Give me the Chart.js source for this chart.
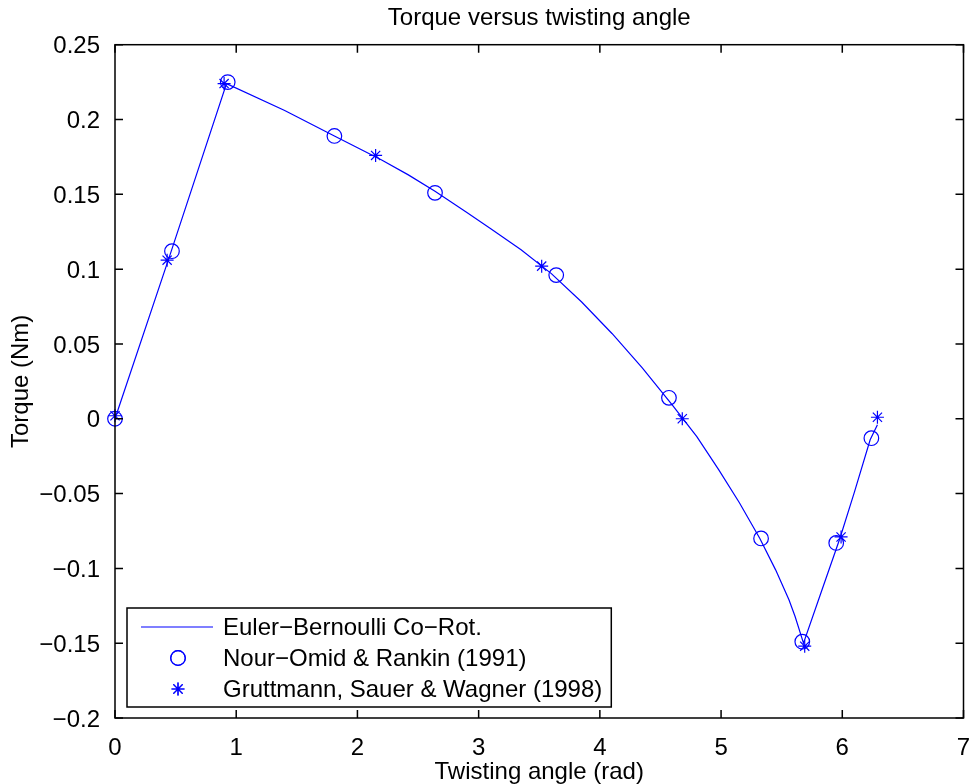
<!DOCTYPE html>
<html>
<head>
<meta charset="utf-8">
<script src="https://cdn.jsdelivr.net/npm/chart.js@4/dist/chart.umd.min.js"></script>
<style>
  html, body { margin: 0; padding: 0; background: #fff; }
  #chart { display: block; }
</style>
</head>
<body>
<canvas id="chart" width="972" height="784"></canvas>
<script>
// Euler-Bernoulli co-rotational curve
const lineAngle = [0, 0.46, 0.92, 1.4, 1.81, 2.2, 2.42, 2.64, 2.9, 3.1, 3.35, 3.6, 3.85, 4.1, 4.35, 4.6, 4.8, 4.98, 5.15, 5.32, 5.45, 5.56, 5.61, 5.68, 5.83, 5.98, 6.1, 6.23, 6.29];
const lineTorque = [0, 0.111, 0.224, 0.206, 0.189, 0.173, 0.163, 0.152, 0.138, 0.127, 0.113, 0.097, 0.078, 0.057, 0.034, 0.009, -0.012, -0.034, -0.056, -0.080, -0.101, -0.121, -0.132, -0.150, -0.115, -0.080, -0.049, -0.014, -0.004];
// Nour-Omid & Rankin (1991)
const nourAngle = [0, 0.47, 0.93, 1.81, 2.64, 3.64, 4.57, 5.33, 5.67, 5.95, 6.24];
const nourTorque = [0, 0.112, 0.225, 0.189, 0.151, 0.096, 0.014, -0.080, -0.149, -0.083, -0.013];
// Gruttmann, Sauer & Wagner (1998)
const grutAngle = [0, 0.43, 0.90, 2.15, 3.52, 4.68, 5.69, 5.99, 6.29];
const grutTorque = [0.002, 0.106, 0.224, 0.176, 0.102, 0.0, -0.152, -0.079, 0.001];

const seriesLabels = ["Euler\u2212Bernoulli Co\u2212Rot.", "Nour\u2212Omid & Rankin (1991)", "Gruttmann, Sauer & Wagner (1998)"];
const xTicks = [0, 1, 2, 3, 4, 5, 6, 7];
const yTicks = [-0.2, -0.15, -0.1, -0.05, 0, 0.05, 0.1, 0.15, 0.2, 0.25];

const BLUE = "#0000ff";
const FONT = "'Liberation Sans', Arial, Helvetica, sans-serif";
Chart.defaults.font.family = FONT;
Chart.defaults.color = "#000";

function toPoints(xs, ys) {
  return xs.map((x, i) => ({ x, y: ys[i] }));
}
function formatTick(value) {
  const r = Math.round(value * 100) / 100;
  if (r === 0) return "0";
  return (r < 0 ? "\u2212" : "") + String(Math.abs(r));
}
function noEdgePadding(scale) {
  scale.paddingLeft = 0;
  scale.paddingRight = 0;
  scale.paddingTop = 0;
  scale.paddingBottom = 0;
}

const framePlugin = {
  id: "frame",
  afterLayout(chart) {
    // center the title over the axes, like the original
    const t = chart.titleBlock;
    t.left = chart.chartArea.left;
    t.right = chart.chartArea.right;
  },
  afterDatasetsDraw(chart) {
    const { ctx, chartArea: a, scales } = chart;
    const len = 8;
    ctx.save();
    ctx.strokeStyle = "#000";
    ctx.lineWidth = 1.5;
    ctx.strokeRect(a.left, a.top, a.right - a.left, a.bottom - a.top);
    ctx.beginPath();
    scales.x.ticks.forEach((t) => {
      const px = scales.x.getPixelForValue(t.value);
      ctx.moveTo(px, a.bottom); ctx.lineTo(px, a.bottom - len);
      ctx.moveTo(px, a.top); ctx.lineTo(px, a.top + len);
    });
    scales.y.ticks.forEach((t) => {
      const py = scales.y.getPixelForValue(t.value);
      ctx.moveTo(a.left, py); ctx.lineTo(a.left + len, py);
      ctx.moveTo(a.right, py); ctx.lineTo(a.right - len, py);
    });
    ctx.stroke();
    ctx.restore();
  },
  afterDraw(chart) {
    const { ctx, chartArea: a } = chart;
    const sets = chart.data.datasets;
    ctx.save();
    ctx.font = `24px ${FONT}`;
    const textW = Math.max(...seriesLabels.map((s) => ctx.measureText(s).width));
    const left = a.left + 12, top = a.bottom - 110;
    const textX = left + 96;
    const w = textX - left + textW + 9, h = 99;
    ctx.fillStyle = "#fff";
    ctx.fillRect(left, top, w, h);
    ctx.strokeStyle = "#000";
    ctx.lineWidth = 1.5;
    ctx.strokeRect(left, top, w, h);
    const rows = [top + 19, top + 50, top + 81];
    const mid = left + 51;
    ctx.strokeStyle = BLUE;
    ctx.lineWidth = sets[0].borderWidth;
    ctx.beginPath();
    ctx.moveTo(left + 14, rows[0]);
    ctx.lineTo(left + 86, rows[0]);
    ctx.stroke();
    [1, 2].forEach((i) => {
      Chart.helpers.drawPoint(ctx, {
        pointStyle: sets[i].pointStyle,
        radius: sets[i].pointRadius,
        rotation: 0,
        borderWidth: sets[i].pointBorderWidth
      }, mid, rows[i]);
      ctx.stroke();
    });
    ctx.fillStyle = "#000";
    ctx.textBaseline = "middle";
    ctx.textAlign = "left";
    seriesLabels.forEach((s, i) => ctx.fillText(s, textX, rows[i] + 1));
    ctx.restore();
  }
};

new Chart(document.getElementById("chart"), {
  type: "scatter",
  data: {
    datasets: [
      { label: seriesLabels[0], data: toPoints(lineAngle, lineTorque), showLine: true, borderColor: BLUE, borderWidth: 1.2, pointRadius: 0, tension: 0, fill: false },
      { label: seriesLabels[1], data: toPoints(nourAngle, nourTorque), showLine: false, pointStyle: "circle", pointRadius: 7.3, pointBorderWidth: 1.2, borderColor: BLUE, backgroundColor: "rgba(0,0,0,0)", clip: false },
      { label: seriesLabels[2], data: toPoints(grutAngle, grutTorque), showLine: false, pointStyle: "star", pointRadius: 6.5, pointBorderWidth: 1.2, borderColor: BLUE, backgroundColor: BLUE, clip: false }
    ]
  },
  options: {
    responsive: false,
    animation: false,
    devicePixelRatio: 1,
    layout: { padding: { left: 0, right: 5, top: 0, bottom: 0 } },
    plugins: {
      legend: { display: false },
      tooltip: { enabled: false },
      title: {
        display: true,
        text: "Torque versus twisting angle",
        color: "#000",
        font: { size: 24, weight: "normal", lineHeight: 1.2 },
        padding: { top: 3.6, bottom: 12.3 }
      }
    },
    scales: {
      x: {
        type: "linear",
        min: 0,
        max: 7,
        afterBuildTicks: (scale) => { scale.ticks = xTicks.map((value) => ({ value })); },
        afterFit: (scale) => { scale.height = 66; noEdgePadding(scale); },
        grid: { display: false },
        border: { display: false },
        ticks: { color: "#000", font: { size: 24 }, padding: 8, maxRotation: 0, callback: (v) => String(v) },
        title: { display: true, text: "Twisting angle (rad)", color: "#000", font: { size: 24, lineHeight: 1 }, padding: { top: 0, bottom: 0 } }
      },
      y: {
        type: "linear",
        min: -0.2,
        max: 0.25,
        afterBuildTicks: (scale) => { scale.ticks = yTicks.map((value) => ({ value })); },
        afterFit: (scale) => { scale.width = 115; noEdgePadding(scale); },
        grid: { display: false },
        border: { display: false },
        ticks: { color: "#000", font: { size: 24 }, padding: 7, labelOffset: 2, callback: (v) => formatTick(v) },
        title: { display: true, text: "Torque (Nm)", color: "#000", font: { size: 24, lineHeight: 1 }, padding: { top: 9.7, bottom: 0 } }
      }
    }
  },
  plugins: [framePlugin]
});
</script>
</body>
</html>
